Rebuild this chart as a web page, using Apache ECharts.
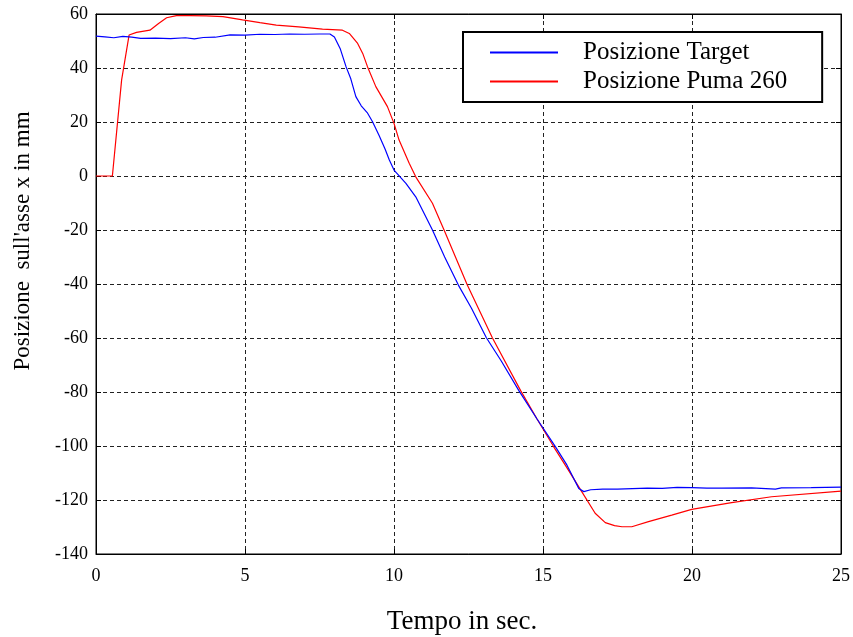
<!DOCTYPE html>
<html>
<head>
<meta charset="utf-8">
<script src="https://cdn.jsdelivr.net/npm/echarts@6/dist/echarts.min.js"></script>
<style>html,body{margin:0;padding:0;background:#fff}#c{width:853px;height:637px}</style>
</head>
<body>
<div id="c"></div>
<script>
const seriesNames = ['Posizione Target', 'Posizione Puma 260'];
const targetTime = [0,0.3,0.6,0.9,1.2,1.5,2.0,2.5,3.0,3.3,3.6,4.0,4.5,5.0,5.5,6.0,6.5,7.0,7.5,7.85,8.0,8.2,8.39,8.55,8.72,8.9,9.1,9.28,9.5,9.7,9.84,10.0,10.4,10.73,11.29,11.7,12.16,12.6,13.1,13.6,14.19,14.8,15.42,15.8,16.2,16.37,16.6,17.0,17.5,18.0,18.5,19.0,19.5,20.0,20.5,21.0,22.0,22.8,23.0,24.0,25.0];
const targetPos = [51.8,51.5,51.2,51.7,51.4,51.0,51.1,50.9,51.2,50.8,51.3,51.4,52.3,52.2,52.5,52.4,52.6,52.5,52.6,52.6,51.5,47,40.5,36,29.4,26,23.5,20.1,15,10,6,2.2,-2.7,-7.7,-20,-30,-40.4,-49,-59.9,-68.5,-79.5,-90,-100.3,-107,-115.7,-116.9,-116.2,-116.0,-116.0,-115.8,-115.6,-115.7,-115.3,-115.4,-115.6,-115.6,-115.5,-116.0,-115.5,-115.4,-115.2];
const pumaTime = [0,0.55,0.86,1.11,1.36,1.81,2.1,2.37,2.7,3.15,3.7,4.26,4.92,5.5,6.05,6.8,7.6,8.27,8.5,8.78,8.95,9.11,9.39,9.78,10.0,10.17,10.51,10.73,11.29,11.68,12.46,13.3,14.25,14.8,15.36,15.8,16.3,16.75,17.09,17.4,17.65,17.98,18.54,19.32,19.99,21.33,22.67,25];
const pumaPos = [0,0,35.6,52.2,53.2,54,56.5,58.6,59.4,59.4,59.3,59,57.8,56.8,55.9,55.2,54.4,54.0,52.8,49.1,45.4,40.5,33.1,25.7,19.5,13.3,4.7,-0.3,-10.1,-20,-40.4,-59.9,-79.5,-90,-100.3,-108,-116.9,-124.9,-128.4,-129.5,-129.9,-129.9,-128,-125.6,-123.5,-121,-118.8,-116.7];
const xTitle = 'Tempo in sec.';
const yTitle = "Posizione  sull'asse x in mm";

const font = 'Liberation Serif';
const zip = (a, b) => a.map((t, i) => [t, b[i]]);
const chart = echarts.init(document.getElementById('c'), null, {renderer: 'canvas'});
const gridLine = {show: true, lineStyle: {color: '#222', type: [4, 3], width: 1}};
const baseX = {type: 'value', min: 0, max: 25, interval: 5};
const baseY = {type: 'value', min: -140, max: 60, interval: 20};
chart.setOption({
  animation: false,
  backgroundColor: '#fff',
  grid: {left: 96, top: 14, right: 10, bottom: 83, show: true, borderColor: '#000', borderWidth: 1},
  xAxis: [
    Object.assign({}, baseX, {
      position: 'bottom',
      axisLine: {show: true, onZero: false, lineStyle: {color: '#000', width: 1}},
      axisTick: {show: true, inside: true, length: 5, lineStyle: {color: '#000'}},
      axisLabel: {fontFamily: font, fontSize: 18, color: '#000', margin: 13},
      splitLine: gridLine
    }),
    Object.assign({}, baseX, {
      position: 'top',
      axisLine: {show: true, onZero: false, lineStyle: {color: '#000', width: 1}},
      axisTick: {show: true, inside: true, length: 5, lineStyle: {color: '#000'}},
      axisLabel: {show: false}, splitLine: {show: false}
    })
  ],
  yAxis: [
    Object.assign({}, baseY, {
      position: 'left',
      axisLine: {show: true, onZero: false, lineStyle: {color: '#000', width: 1}},
      axisTick: {show: true, inside: true, length: 5, lineStyle: {color: '#000'}},
      axisLabel: {fontFamily: font, fontSize: 18, color: '#000', margin: 8},
      splitLine: gridLine
    }),
    Object.assign({}, baseY, {
      position: 'right',
      axisLine: {show: true, onZero: false, lineStyle: {color: '#000', width: 1}},
      axisTick: {show: true, inside: true, length: 5, lineStyle: {color: '#000'}},
      axisLabel: {show: false}, splitLine: {show: false}
    })
  ],
  legend: {
    orient: 'vertical', left: 463, top: 32,
    backgroundColor: '#fff', borderColor: '#000', borderWidth: 2,
    padding: [8, 35, 8, 27],
    itemWidth: 68, itemHeight: 2, itemGap: 4, icon: 'rect',
    textStyle: {fontFamily: font, fontSize: 25, color: '#000', padding: [0, 0, 0, 20], lineHeight: 24},
    data: seriesNames
  },
  graphic: [{
    type: 'text', x: 23, y: 241, rotation: Math.PI / 2,
    style: {text: yTitle, fontFamily: font, fontSize: 23, fill: '#000', textAlign: 'center', textVerticalAlign: 'middle'}
  }, {
    type: 'text', x: 462, y: 622,
    style: {text: xTitle, fontFamily: font, fontSize: 27, fill: '#000', textAlign: 'center', textVerticalAlign: 'middle'}
  }],
  series: [
    {name: seriesNames[0], type: 'line', data: zip(targetTime, targetPos), showSymbol: false, symbol: 'none',
     lineStyle: {color: '#0000ff', width: 1.2}, itemStyle: {color: '#0000ff'}, z: 3},
    {name: seriesNames[1], type: 'line', data: zip(pumaTime, pumaPos), showSymbol: false, symbol: 'none',
     lineStyle: {color: '#ff0000', width: 1.2}, itemStyle: {color: '#ff0000'}, z: 2}
  ]
});
</script>
</body>
</html>
